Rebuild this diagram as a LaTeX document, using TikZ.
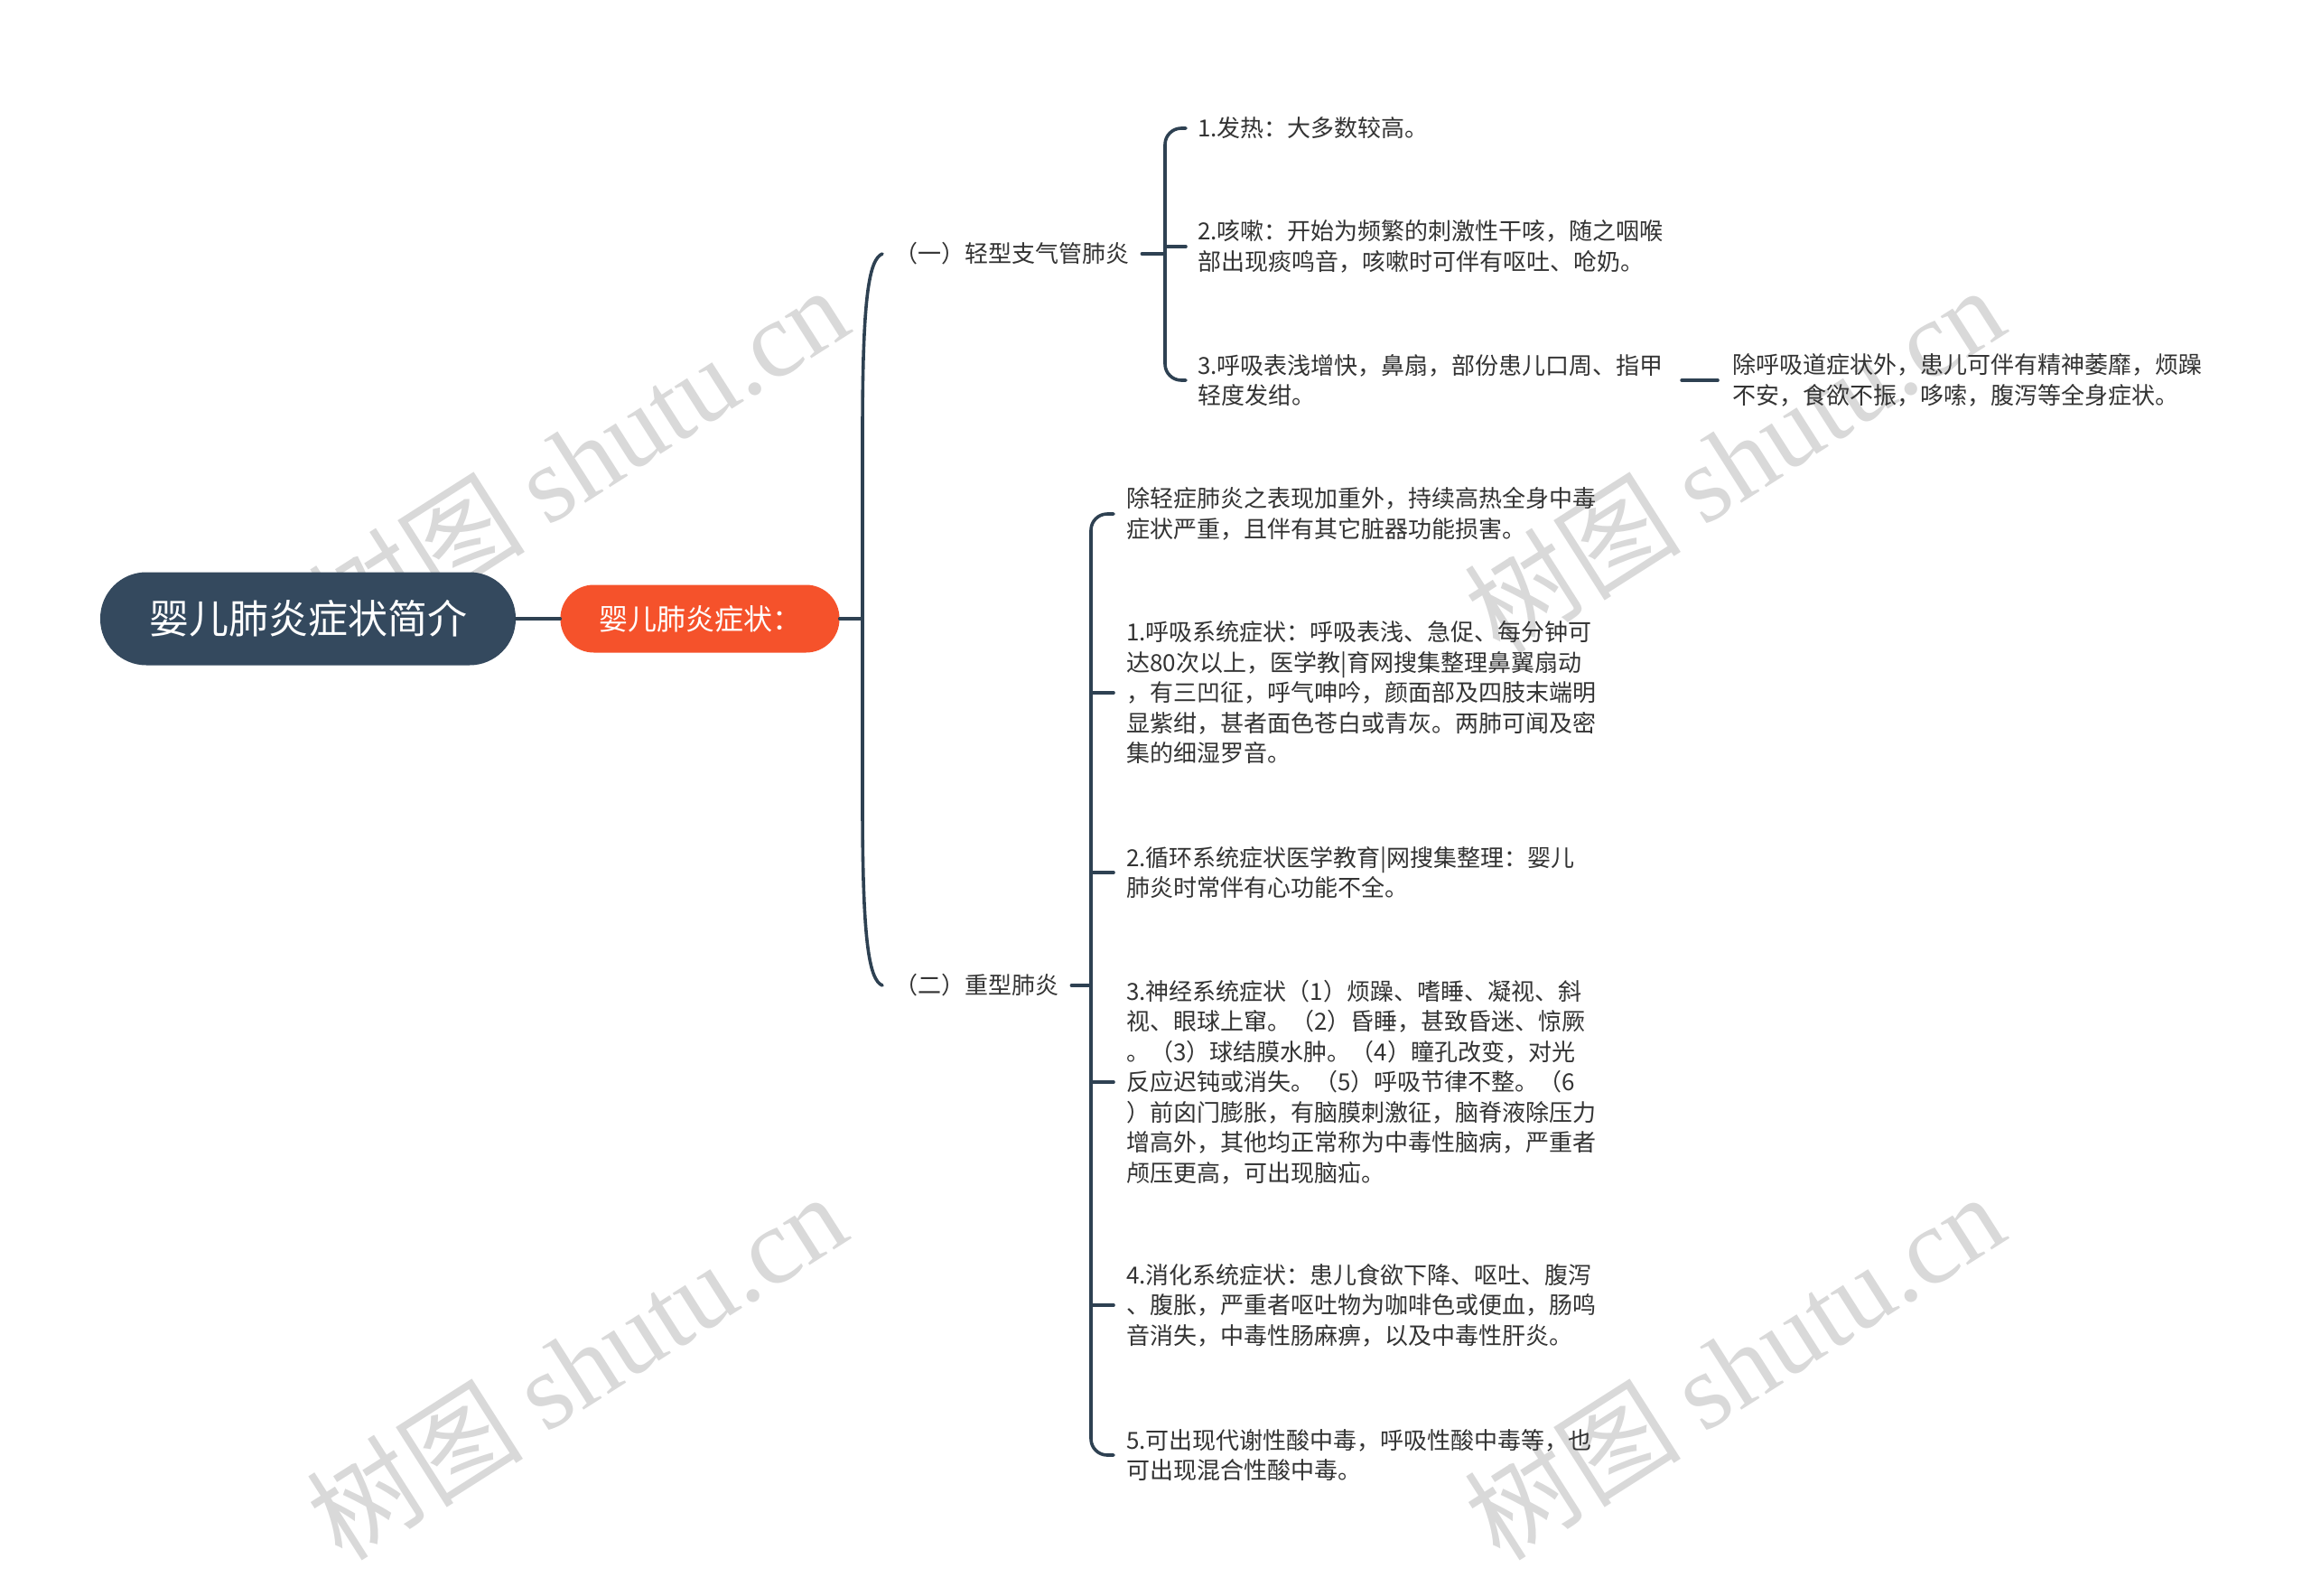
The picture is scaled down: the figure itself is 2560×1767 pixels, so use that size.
\documentclass[tikz,border=0pt]{standalone}
\usepackage{fontspec}
\setmainfont{Noto Sans CJK SC}
\newfontfamily\wmlat{Liberation Serif}
\usetikzlibrary{calc}
\definecolor{lc}{HTML}{2E4152}
\definecolor{rootc}{HTML}{34495E}
\definecolor{subc}{HTML}{F5522B}
\definecolor{txc}{HTML}{333333}
\definecolor{wmc}{HTML}{D9D9D9}
\tikzset{
  conn/.style={draw=lc, line width=3.6pt, line cap=round},
  rootbox/.style={fill=rootc, text=white, rounded corners=51pt, minimum width=460pt, minimum height=103pt, inner sep=0pt, font=\fontsize{44}{52}\selectfont},
  subbox/.style={fill=subc, text=white, rounded corners=37pt, minimum width=309pt, minimum height=75pt, inner sep=0pt, font=\fontsize{32}{40}\selectfont},
  lbl/.style={anchor=west, inner sep=0pt, align=left, text=txc, font=\fontsize{26}{33.5}\selectfont},
  wm/.style={text=wmc, inner sep=0pt, font=\fontsize{120}{125}\selectfont}
}
\begin{document}
\begin{tikzpicture}[x=1pt,y=-1pt]
\useasboundingbox (0,0) rectangle (2560,1767);
% watermarks
\node[wm, rotate=32.5] (wm1) at (640,508) {树图 {\wmlat shutu.cn}};
\node[wm, rotate=32.5] (wm2) at (1920,508) {树图 {\wmlat shutu.cn}};
\node[wm, rotate=32.5] (wm3) at (638,1512) {树图 {\wmlat shutu.cn}};
\node[wm, rotate=32.5] (wm4) at (1920,1512) {树图 {\wmlat shutu.cn}};

% main nodes
\node[rootbox] (root) at (341,685) {婴儿肺炎症状简介};
\node[subbox] (sub) at (775,685) {婴儿肺炎症状：};
\draw[conn] (root.east) -- (sub.west);
\coordinate (sp) at (955,685);
\draw[conn] (sub.east) -- (sp);

% branches
\node[lbl] (br1) at (990,281) {（一）轻型支气管肺炎};
\node[lbl] (br2) at (990,1091) {（二）重型肺炎};
\draw[conn] ([xshift=-13pt]br1.west) .. controls (962,287) and (955,330) .. (955,480) -- (955,890) .. controls (955,1040) and (962,1085) .. ([xshift=-13pt]br2.west);

% light branch leaves
\node[lbl] (l1) at (1326,142) {1.发热：大多数较高。};
\node[lbl] (l2) at (1326,273) {2.咳嗽：开始为频繁的刺激性干咳，随之咽喉\\部出现痰鸣音，咳嗽时可伴有呕吐、呛奶。};
\node[lbl] (l3) at (1326,421) {3.呼吸表浅增快，鼻扇，部份患儿口周、指甲\\轻度发绀。};
\node[lbl] (l3c) at (1918,421) {除呼吸道症状外，患儿可伴有精神萎靡，烦躁\\不安，食欲不振，哆嗦，腹泻等全身症状。};

\coordinate (k1) at ([xshift=-36pt]l2.west |- br1.east);
\draw[conn] ([xshift=14pt]br1.east) -- (k1);
\draw[conn, rounded corners=18pt] ([xshift=-13pt]l1.west) -| ([xshift=-36pt]l3.west) -- ([xshift=-13pt]l3.west);
\draw[conn] ([xshift=-36pt]l2.west) -- ([xshift=-13pt]l2.west);
\draw[conn] ([xshift=20pt]l3.east) -- ([xshift=-16pt]l3c.west);

% heavy branch leaves
\node[lbl] (h0) at (1247,569) {除轻症肺炎之表现加重外，持续高热全身中毒\\症状严重，且伴有其它脏器功能损害。};
\node[lbl] (h1) at (1247,767) {1.呼吸系统症状：呼吸表浅、急促、每分钟可\\达80次以上，医学教|育网搜集整理鼻翼扇动\\，有三凹征，呼气呻吟，颜面部及四肢末端明\\显紫绀，甚者面色苍白或青灰。两肺可闻及密\\集的细湿罗音。};
\node[lbl] (h2) at (1247,966) {2.循环系统症状医学教育|网搜集整理：婴儿\\肺炎时常伴有心功能不全。};
\node[lbl] (h3) at (1247,1198) {3.神经系统症状（1）烦躁、嗜睡、凝视、斜\\视、眼球上窜。（2）昏睡，甚致昏迷、惊厥\\。（3）球结膜水肿。（4）瞳孔改变，对光\\反应迟钝或消失。（5）呼吸节律不整。（6\\）前囟门膨胀，有脑膜刺激征，脑脊液除压力\\增高外，其他均正常称为中毒性脑病，严重者\\颅压更高，可出现脑疝。};
\node[lbl] (h4) at (1247,1445) {4.消化系统症状：患儿食欲下降、呕吐、腹泻\\、腹胀，严重者呕吐物为咖啡色或便血，肠鸣\\音消失，中毒性肠麻痹，以及中毒性肝炎。};
\node[lbl] (h5) at (1247,1611) {5.可出现代谢性酸中毒，呼吸性酸中毒等，也\\可出现混合性酸中毒。};

\coordinate (k2) at ([xshift=-39pt]h0.west |- br2.east);
\draw[conn] ([xshift=14pt]br2.east) -- (k2);
\draw[conn, rounded corners=18pt] ([xshift=-14pt]h0.west) -| ([xshift=-39pt]h5.west) -- ([xshift=-14pt]h5.west);
\foreach \n in {h1,h2,h3,h4}{
  \draw[conn] ([xshift=-39pt]\n.west) -- ([xshift=-14pt]\n.west);
}
\end{tikzpicture}
\end{document}
